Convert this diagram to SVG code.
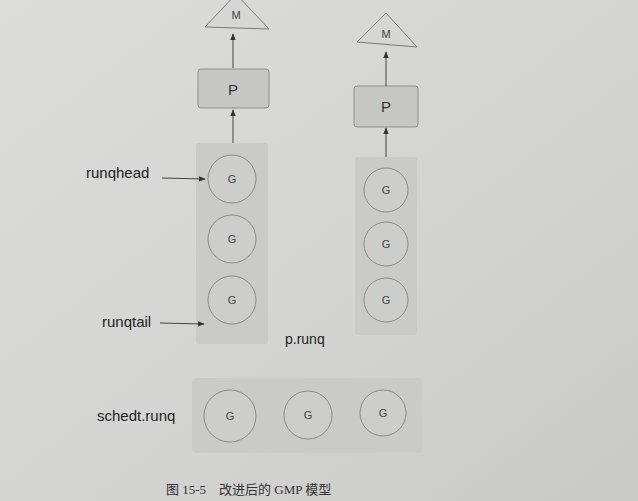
<svg xmlns="http://www.w3.org/2000/svg" width="638" height="501" viewBox="0 0 638 501">
<defs>
<linearGradient id="bg" x1="0" y1="0" x2="1" y2="1">
<stop offset="0" stop-color="#dcdcdb"/>
<stop offset="0.6" stop-color="#d3d3d2"/>
<stop offset="1" stop-color="#c9c9c8"/>
</linearGradient>
<marker id="ah" viewBox="0 0 10 10" refX="9" refY="5" markerWidth="7" markerHeight="7" orient="auto-start-reverse">
<path d="M0,1 L10,5 L0,9 z" fill="#333"/>
</marker>
<style>
.lbl{font-family:"Liberation Sans",Arial,sans-serif;font-size:15px;fill:#222}
.g{font-family:"Liberation Sans",Arial,sans-serif;font-size:11px;fill:#444;text-anchor:middle}
.big{font-family:"Liberation Sans",Arial,sans-serif;font-size:15px;fill:#333;text-anchor:middle}
.col{fill:#cacac9}
.circ{fill:#cdcdcc;stroke:#8a8a8a;stroke-width:1}
.pbox{fill:#c6c6c5;stroke:#8f8f8f;stroke-width:1}
.tri{fill:#d6d6d5;stroke:#7a7a7a;stroke-width:1}
.conn{stroke:#444;stroke-width:1;fill:none;marker-end:url(#ah)}
.cap{font-family:"Liberation Serif","Noto Sans CJK SC",serif;font-size:13px;fill:#333}
</style>
</defs>
<rect width="638" height="501" fill="url(#bg)"/>

<g id="left-column">
<rect class="col" x="196" y="143" width="72" height="201" rx="3"/>
</g>
<g id="right-column">
<rect class="col" x="355" y="157" width="62" height="178" rx="3"/>
</g>
<g id="global-queue">
<rect class="col" x="192" y="378" width="230" height="75" rx="4"/>
</g>

<g id="m1">
<polygon class="tri" points="236,-6 205,27 269,29"/>
<text class="g" x="236" y="19">M</text>
</g>
<g id="m2">
<polygon class="tri" points="386,13 357,42 417,47"/>
<text class="g" x="386" y="38">M</text>
</g>
<g id="p1">
<rect class="pbox" x="198" y="69" width="71" height="39" rx="3"/>
<text class="big" x="233" y="95">P</text>
</g>
<g id="p2">
<rect class="pbox" x="354" y="86" width="64" height="41" rx="3"/>
<text class="big" x="386" y="112">P</text>
</g>

<g id="g-left-1"><circle class="circ" cx="232" cy="179" r="24"/><text class="g" x="232" y="183">G</text></g>
<g id="g-left-2"><circle class="circ" cx="232" cy="239" r="24"/><text class="g" x="232" y="243">G</text></g>
<g id="g-left-3"><circle class="circ" cx="232" cy="300" r="24"/><text class="g" x="232" y="304">G</text></g>
<g id="g-right-1"><circle class="circ" cx="386" cy="190" r="22"/><text class="g" x="386" y="194">G</text></g>
<g id="g-right-2"><circle class="circ" cx="386" cy="244" r="22"/><text class="g" x="386" y="248">G</text></g>
<g id="g-right-3"><circle class="circ" cx="386" cy="300" r="22"/><text class="g" x="386" y="304">G</text></g>
<g id="g-global-1"><circle class="circ" cx="230" cy="416" r="26"/><text class="g" x="230" y="420">G</text></g>
<g id="g-global-2"><circle class="circ" cx="308" cy="415" r="24"/><text class="g" x="308" y="419">G</text></g>
<g id="g-global-3"><circle class="circ" cx="383" cy="413" r="23"/><text class="g" x="383" y="417">G</text></g>

<g id="labels">
<text class="lbl" x="86" y="178">runqhead</text>
<text class="lbl" x="102" y="327">runqtail</text>
<text class="lbl" x="285" y="344" style="font-size:14px">p.runq</text>
<text class="lbl" x="97" y="421">schedt.runq</text>
</g>

<g id="connectors">
<line class="conn" x1="233" y1="68" x2="233" y2="34"/>
<line class="conn" x1="233" y1="143" x2="233" y2="110"/>
<line class="conn" x1="386" y1="86" x2="386" y2="52"/>
<line class="conn" x1="386" y1="157" x2="386" y2="128"/>
<line class="conn" x1="162" y1="178" x2="205" y2="179"/>
<line class="conn" x1="160" y1="323" x2="204" y2="324"/>
</g>

<text class="cap" x="166" y="494">图 15-5　改进后的 GMP 模型</text>
</svg>
